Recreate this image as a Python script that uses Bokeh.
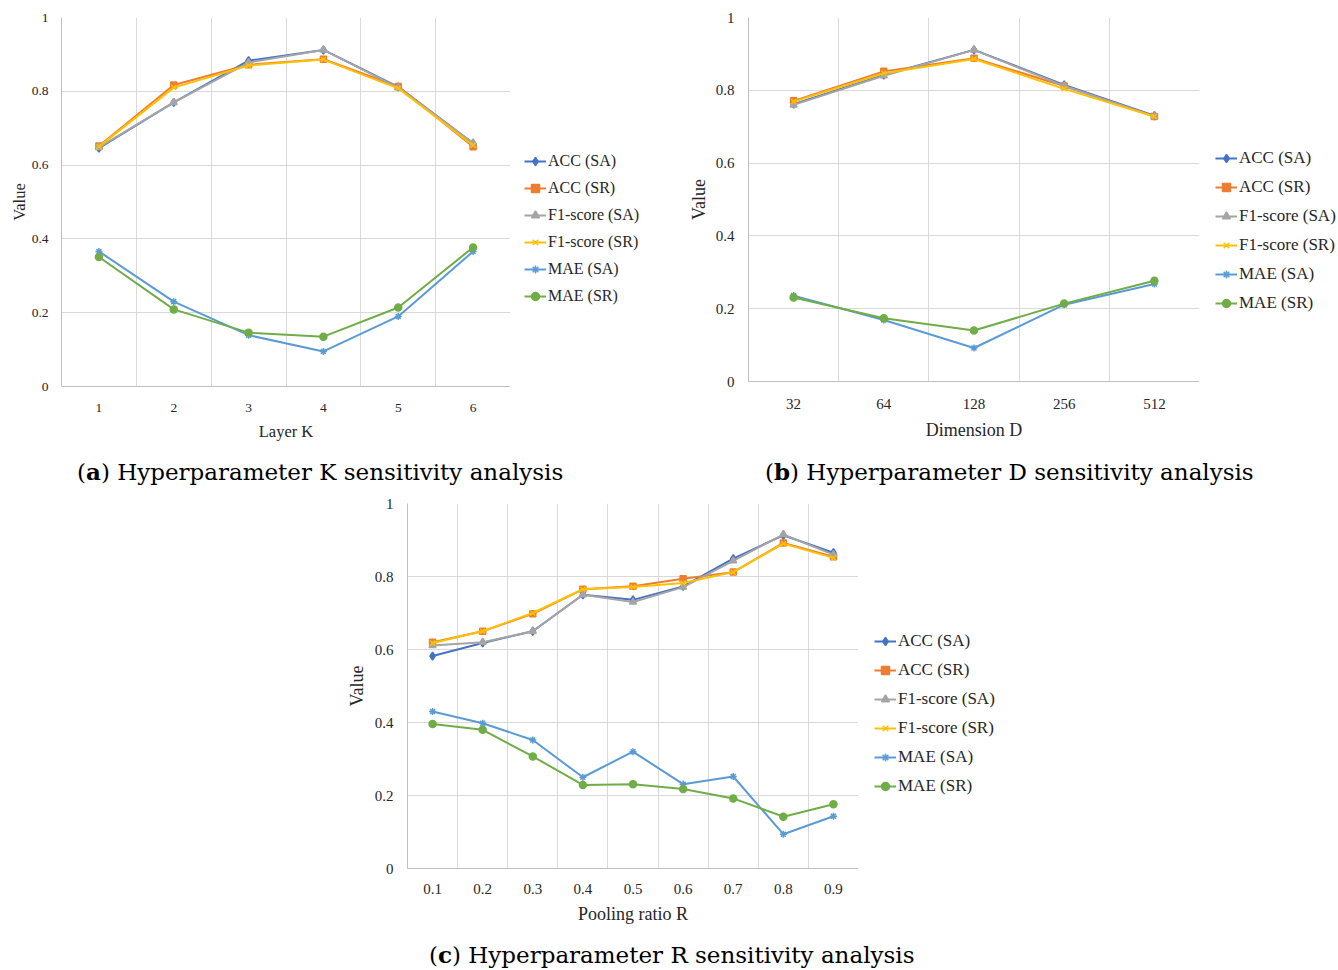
from bokeh.plotting import figure
from bokeh.models import (ColumnDataSource, Legend, LegendItem, FixedTicker,
                          NumeralTickFormatter, Div, Spacer, Range1d)
from bokeh.layouts import row, column
from bokeh.embed import file_html
from bokeh.resources import INLINE

# ---------------- data ----------------
series_names = ["ACC (SA)", "ACC (SR)", "F1-score (SA)", "F1-score (SR)", "MAE (SA)", "MAE (SR)"]
series_colors = ["#4472C4", "#ED7D31", "#A5A5A5", "#FFC000", "#5B9BD5", "#70AD47"]
series_markers = ["diamond", "square", "triangle", "x", "asterisk", "circle"]

# (a) Layer K
k_layers = ["1", "2", "3", "4", "5", "6"]
k_acc_sa = [0.646, 0.770, 0.883, 0.912, 0.812, 0.659]
k_acc_sr = [0.652, 0.817, 0.872, 0.887, 0.813, 0.650]
k_f1_sa = [0.648, 0.770, 0.878, 0.912, 0.810, 0.660]
k_f1_sr = [0.650, 0.810, 0.870, 0.886, 0.808, 0.654]
k_mae_sa = [0.366, 0.230, 0.139, 0.095, 0.190, 0.366]
k_mae_sr = [0.351, 0.209, 0.146, 0.135, 0.214, 0.377]

# (b) Dimension D
d_dims = ["32", "64", "128", "256", "512"]
d_acc_sa = [0.762, 0.842, 0.911, 0.815, 0.730]
d_acc_sr = [0.771, 0.852, 0.888, 0.812, 0.728]
d_f1_sa = [0.760, 0.840, 0.911, 0.812, 0.728]
d_f1_sr = [0.769, 0.847, 0.886, 0.804, 0.728]
d_mae_sa = [0.236, 0.169, 0.092, 0.211, 0.268]
d_mae_sr = [0.231, 0.174, 0.140, 0.214, 0.277]

# (c) Pooling ratio R
r_ratios = ["0.1", "0.2", "0.3", "0.4", "0.5", "0.6", "0.7", "0.8", "0.9"]
r_acc_sa = [0.582, 0.618, 0.650, 0.750, 0.736, 0.773, 0.849, 0.913, 0.865]
r_acc_sr = [0.620, 0.650, 0.698, 0.765, 0.773, 0.794, 0.812, 0.892, 0.854]
r_f1_sa = [0.611, 0.620, 0.650, 0.750, 0.730, 0.771, 0.843, 0.915, 0.860]
r_f1_sr = [0.618, 0.650, 0.700, 0.765, 0.771, 0.782, 0.812, 0.890, 0.851]
r_mae_sa = [0.430, 0.398, 0.352, 0.250, 0.320, 0.231, 0.252, 0.094, 0.143]
r_mae_sr = [0.396, 0.380, 0.307, 0.229, 0.231, 0.218, 0.192, 0.142, 0.176]

y_ticks = [0, 0.2, 0.4, 0.6, 0.8, 1.0]

SERIF = "Liberation Serif"
marker_sizes = {"diamond": 8, "square": 6, "triangle": 7, "x": 7, "asterisk": 7, "circle": 7}


def add_series(p, xs, values):
    rends = []
    for vals, color, marker in zip(values, series_colors, series_markers):
        src = ColumnDataSource(dict(x=xs, y=vals))
        ln = p.line("x", "y", source=src, line_color=color, line_width=2)
        sc = p.scatter("x", "y", source=src, marker=marker, size=marker_sizes[marker],
                       fill_color=color, line_color=color, line_width=1.5)
        rends.append([ln, sc])
    return rends


def make_chart(cats, values, xlabel, frame_w, frame_h, b_left, b_top, b_bottom,
               tick_font, label_font, y_tick_standoff, y_label_standoff,
               x_tick_standoff, x_label_standoff):
    n = len(cats)
    xs = list(range(1, n + 1))
    p = figure(frame_width=frame_w, frame_height=frame_h, x_range=Range1d(0.5, n + 0.5),
               y_range=Range1d(0, 1), output_backend="svg", toolbar_location=None,
               min_border_left=b_left, min_border_right=0,
               min_border_top=b_top, min_border_bottom=b_bottom)
    p.outline_line_color = None
    p.background_fill_color = "white"

    p.xaxis.ticker = FixedTicker(ticks=xs)
    p.xaxis.major_label_overrides = {x: c for x, c in zip(xs, cats)}
    p.yaxis.ticker = FixedTicker(ticks=y_ticks)
    p.yaxis.formatter = NumeralTickFormatter(format="0.[0]")
    for ax in (p.xaxis[0], p.yaxis[0]):
        ax.axis_line_color = "#BFBFBF"
        ax.axis_line_width = 1
        ax.major_tick_line_color = None
        ax.minor_tick_line_color = None
        ax.major_tick_out = 0
        ax.major_tick_in = 0
        ax.major_label_text_font = SERIF
        ax.major_label_text_font_size = tick_font
        ax.major_label_text_color = "#262626"
        ax.axis_label_text_font = SERIF
        ax.axis_label_text_font_size = label_font
        ax.axis_label_text_font_style = "normal"
        ax.axis_label_text_color = "#262626"
    p.yaxis.major_label_standoff = y_tick_standoff
    p.yaxis.axis_label = "Value"
    p.yaxis.axis_label_standoff = y_label_standoff
    p.xaxis.axis_label = xlabel
    p.xaxis.major_label_standoff = x_tick_standoff
    p.xaxis.axis_label_standoff = x_label_standoff

    p.ygrid.ticker = FixedTicker(ticks=y_ticks)
    p.xgrid.ticker = FixedTicker(ticks=[i + 0.5 for i in range(0, n + 1)])
    for g in (p.xgrid[0], p.ygrid[0]):
        g.grid_line_color = "#D9D9D9"
        g.grid_line_width = 1

    add_series(p, xs, values)
    return p


def make_legend(cats, values, width, height, loc, spacing, font):
    # legend panel: same series, kept out of view (x range away from the data),
    # so that only the legend entries are visible
    xs = list(range(1, len(cats) + 1))
    lf = figure(width=width, height=height, x_range=Range1d(-3, -2), y_range=Range1d(0, 1),
                x_axis_type=None, y_axis_type=None, output_backend="svg",
                toolbar_location=None, min_border=0)
    lf.outline_line_color = None
    lf.xgrid.visible = False
    lf.ygrid.visible = False
    rends = add_series(lf, xs, values)
    items = [LegendItem(label=nm, renderers=r) for nm, r in zip(series_names, rends)]
    leg = Legend(items=items, location=loc, orientation="vertical")
    leg.label_text_font = SERIF
    leg.label_text_font_size = font
    leg.label_text_color = "#262626"
    leg.glyph_width = 22
    leg.glyph_height = 20
    leg.label_height = 20
    leg.label_standoff = 2
    leg.spacing = spacing
    leg.padding = 0
    leg.margin = 0
    leg.border_line_color = None
    leg.background_fill_alpha = 0
    lf.add_layout(leg, "center")
    return lf


vals_a = [k_acc_sa, k_acc_sr, k_f1_sa, k_f1_sr, k_mae_sa, k_mae_sr]
vals_b = [d_acc_sa, d_acc_sr, d_f1_sa, d_f1_sr, d_mae_sa, d_mae_sr]
vals_c = [r_acc_sa, r_acc_sr, r_f1_sa, r_f1_sr, r_mae_sa, r_mae_sr]

fig_a = make_chart(k_layers, vals_a, "Layer K", 449, 369, 61, 16, 55,
                   "13.5px", "16.5px", 13, 0, 17, 7)
leg_a = make_legend(k_layers, vals_a, 170, 440, (14, 73), 7, "16px")

fig_b = make_chart(d_dims, vals_b, "Dimension D", 451, 364, 68, 17, 59,
                   "15px", "18px", 14, 4, 17, 8)
leg_b = make_legend(d_dims, vals_b, 139, 440, (16, 66), 9, "17px")

fig_c = make_chart(r_ratios, vals_c, "Pooling ratio R", 451, 365, 68, 11, 58,
                   "15px", "18px", 14, 5, 15, 7)
leg_c = make_legend(r_ratios, vals_c, 150, 434, (16, 72), 9, "17px")

CAP_STYLE = ("font-family:'DejaVu Serif';font-size:23px;line-height:26px;"
             "color:#000;white-space:nowrap;")

cap_a = Div(text=f'<div style="{CAP_STYLE}padding-left:77px;padding-top:17px;">'
                 '(<b>a</b>) Hyperparameter K sensitivity analysis</div>',
            width=680, height=50, margin=0)
cap_b = Div(text=f'<div style="{CAP_STYLE}padding-left:85px;padding-top:17px;">'
                 '(<b>b</b>) Hyperparameter D sensitivity analysis</div>',
            width=658, height=50, margin=0)
cap_c = Div(text=f'<div style="{CAP_STYLE}padding-left:429px;padding-top:16px;">'
                 '(<b>c</b>) Hyperparameter R sensitivity analysis</div>',
            width=1338, height=36, margin=0)

layout = column(
    row(fig_a, leg_a, fig_b, leg_b),
    row(cap_a, cap_b),
    row(Spacer(width=339, height=434, margin=0), fig_c, leg_c),
    cap_c,
)

open("out.html", "w").write(file_html(layout, INLINE))
